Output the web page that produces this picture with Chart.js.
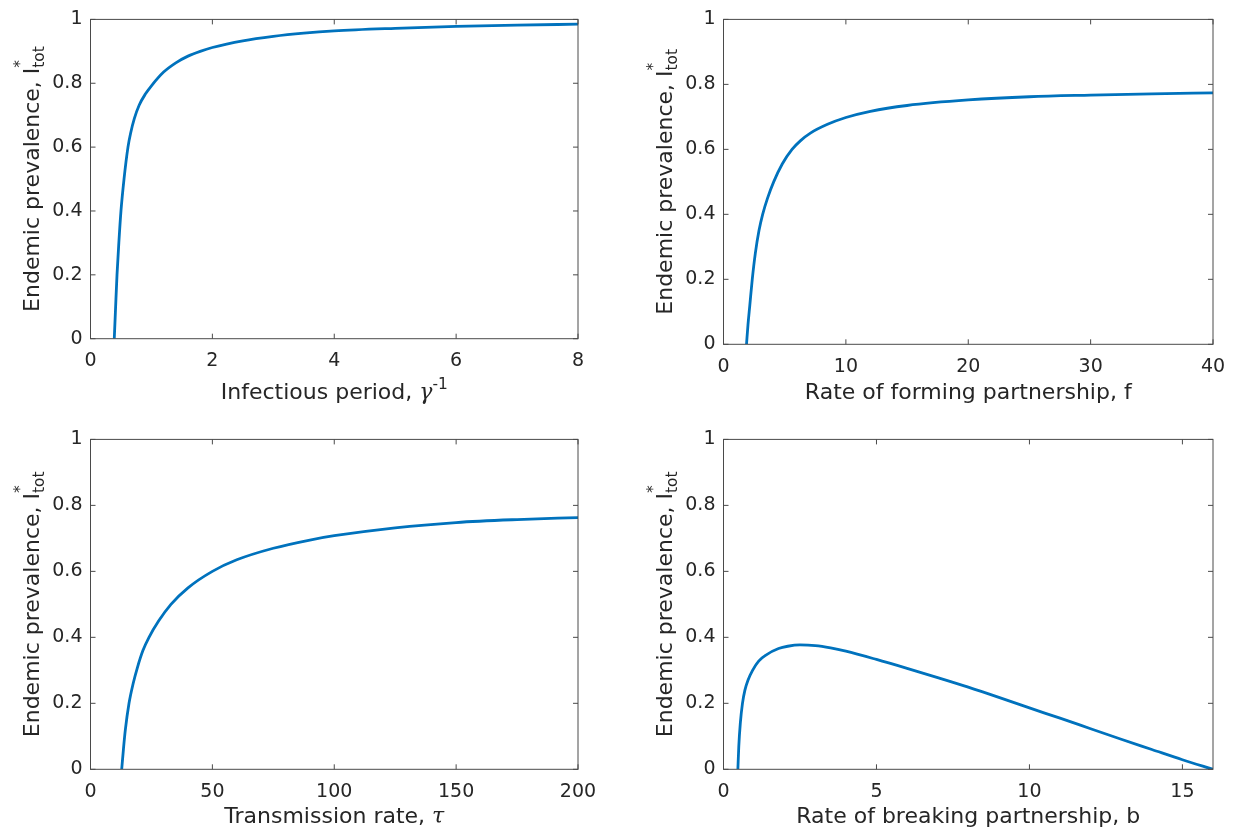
<!DOCTYPE html>
<html>
<head>
<meta charset="utf-8">
<script src="https://cdn.jsdelivr.net/npm/chart.js@4.4.0/dist/chart.umd.min.js"></script>
<style>
  body { margin: 0; background: #fff; }
  #fig { position: relative; width: 1239px; height: 833px; }
  canvas { position: absolute; }
</style>
</head>
<body>
<div id="fig">
  <canvas id="period" width="620" height="420" style="left:0;top:0"></canvas>
  <canvas id="forming" width="619" height="420" style="left:620px;top:0"></canvas>
  <canvas id="transmission" width="620" height="413" style="left:0;top:420px"></canvas>
  <canvas id="breaking" width="619" height="413" style="left:620px;top:420px"></canvas>
</div>
<script>
// values
const periodX = [0.39, 0.41, 0.435, 0.465, 0.50, 0.55, 0.615, 0.66, 0.72, 0.80, 0.90, 1.0, 1.2, 1.4, 1.6, 1.8, 2.0, 2.5, 3.0, 3.5, 4.0, 5.0, 6.0, 7.0, 8.0];
const periodY = [0, 0.09, 0.2, 0.3, 0.4, 0.5, 0.6, 0.645, 0.69, 0.732, 0.766, 0.792, 0.835, 0.864, 0.885, 0.900, 0.912, 0.933, 0.947, 0.957, 0.964, 0.972, 0.978, 0.982, 0.985];

const formingX = [1.88, 2.0, 2.15, 2.35, 2.6, 2.9, 3.2, 3.6, 4.1, 4.8, 5.6, 6.3, 7.1, 8.5, 10, 12, 15, 20, 25, 30, 35, 40];
const formingY = [0, 0.06, 0.12, 0.2, 0.28, 0.35, 0.4, 0.45, 0.5, 0.555, 0.6, 0.627, 0.65, 0.677, 0.698, 0.717, 0.735, 0.752, 0.762, 0.767, 0.771, 0.774];

const transmissionX = [12.8, 13.5, 14.3, 15.8, 17.5, 19.3, 21.5, 24, 28, 33, 40, 50, 60, 75, 90, 100, 125, 150, 175, 200];
const transmissionY = [0, 0.06, 0.12, 0.2, 0.26, 0.31, 0.36, 0.4, 0.45, 0.5, 0.55, 0.6, 0.635, 0.67, 0.695, 0.708, 0.732, 0.748, 0.757, 0.763];

const breakingX = [0.47, 0.5, 0.55, 0.62, 0.7, 0.8, 0.95, 1.15, 1.4, 1.8, 2.1, 2.5, 3.0, 3.5, 4.0, 5.0, 6.0, 7.0, 8.0, 9.0, 10, 11, 12, 13, 14, 15, 16];
const breakingY = [0, 0.07, 0.14, 0.2, 0.24, 0.27, 0.3, 0.328, 0.347, 0.366, 0.373, 0.377, 0.375, 0.368, 0.358, 0.333, 0.306, 0.278, 0.249, 0.218, 0.186, 0.155, 0.123, 0.091, 0.06, 0.029, 0];

const prevalenceTicks = [0, 0.2, 0.4, 0.6, 0.8, 1];
const prevalenceLabels = ['0', '0.2', '0.4', '0.6', '0.8', '1'];
const periodTicks = [0, 2, 4, 6, 8];
const periodLabels = ['0', '2', '4', '6', '8'];
const formingTicks = [0, 10, 20, 30, 40];
const formingLabels = ['0', '10', '20', '30', '40'];
const transmissionTicks = [0, 50, 100, 150, 200];
const transmissionLabels = ['0', '50', '100', '150', '200'];
const breakingTicks = [0, 5, 10, 15];
const breakingLabels = ['0', '5', '10', '15'];

const INK = '#262626';
const tickSize = 19;
const titleSize = 22;

const yTitle = [
  { t: 'Endemic prevalence, I' },
  { t: '*', s: 0.7, dy: -0.62, keep: true },
  { t: 'tot', s: 0.7, dy: 0.22 }
];

// draws a label made of pieces (plain, italic greek, super/subscripts)
function drawRich(ctx, parts, size) {
  const fontOf = p => (p.it ? 'italic ' : '') + (size * (p.s || 1)).toFixed(1) + 'px ' +
    (p.serif ? '"DejaVu Serif"' : '"DejaVu Sans"');
  let total = 0, pending = 0;
  parts.forEach(p => {
    ctx.font = fontOf(p);
    const w = ctx.measureText(p.t).width;
    if (p.keep) { pending = Math.max(pending, w); } else { total += Math.max(w, pending); pending = 0; }
  });
  let x = -total / 2;
  pending = 0;
  ctx.textAlign = 'left';
  ctx.textBaseline = 'alphabetic';
  parts.forEach(p => {
    ctx.font = fontOf(p);
    const w = ctx.measureText(p.t).width;
    ctx.fillText(p.t, x, (p.dy || 0) * size);
    if (p.keep) { pending = Math.max(pending, w); } else { x += Math.max(w, pending); pending = 0; }
  });
}

function makePanel(id, p) {
  const canvas = document.getElementById(id);
  const W = canvas.width, H = canvas.height;
  const frame = {
    id: 'frame',
    afterDraw(chart) {
      const { ctx, chartArea: a, scales: { x, y } } = chart;
      ctx.save();
      ctx.strokeStyle = '#4a4a4a';
      ctx.lineWidth = 1;
      ctx.strokeRect(a.left, a.top, a.right - a.left, a.bottom - a.top);
      ctx.beginPath();
      x.ticks.forEach(t => {
        const px = x.getPixelForValue(t.value);
        ctx.moveTo(px, a.bottom); ctx.lineTo(px, a.bottom - 5);
        ctx.moveTo(px, a.top); ctx.lineTo(px, a.top + 5);
      });
      y.ticks.forEach(t => {
        const py = y.getPixelForValue(t.value);
        ctx.moveTo(a.left, py); ctx.lineTo(a.left + 5, py);
        ctx.moveTo(a.right, py); ctx.lineTo(a.right - 5, py);
      });
      ctx.stroke();
      ctx.fillStyle = INK;
      // x title
      ctx.save();
      ctx.translate((a.left + a.right) / 2, a.bottom + p.xGap);
      drawRich(ctx, p.xTitle, titleSize);
      ctx.restore();
      // y title
      ctx.save();
      ctx.translate(a.left - 51.5, (a.top + a.bottom) / 2);
      ctx.rotate(-Math.PI / 2);
      drawRich(ctx, yTitle, titleSize);
      ctx.restore();
      ctx.restore();
    }
  };
  return new Chart(canvas, {
    type: 'scatter',
    data: {
      datasets: [{
        data: p.x.map((v, i) => ({ x: v, y: p.y[i] })),
        showLine: true,
        borderColor: '#0072BD',
        borderWidth: 2.8,
        pointRadius: 0,
        cubicInterpolationMode: 'monotone',
        fill: false
      }]
    },
    options: {
      responsive: false,
      animation: false,
      events: [],
      layout: { padding: { left: 0, top: p.area.t, right: W - p.area.r, bottom: 0 } },
      plugins: { legend: { display: false }, tooltip: { enabled: false } },
      scales: {
        x: {
          type: 'linear', min: p.xMin, max: p.xMax,
          grid: { display: false, drawTicks: false },
          border: { display: false },
          afterBuildTicks: s => { s.ticks = p.xTicks.map(v => ({ value: v })); },
          afterFit: s => { s.height = H - p.area.b; },
          ticks: {
            font: { family: 'DejaVu Sans', size: tickSize }, color: INK, padding: 11,
            maxRotation: 0, autoSkip: false, callback: (v, i) => p.xLabels[i]
          }
        },
        y: {
          type: 'linear', min: 0, max: 1,
          grid: { display: false, drawTicks: false },
          border: { display: false },
          afterBuildTicks: s => { s.ticks = prevalenceTicks.map(v => ({ value: v })); },
          afterFit: s => { s.width = p.area.l; },
          ticks: {
            font: { family: 'DejaVu Sans', size: tickSize }, color: INK, padding: 8,
            autoSkip: false, callback: (v, i) => prevalenceLabels[i]
          }
        }
      }
    },
    plugins: [frame]
  });
}

makePanel('period', {
  x: periodX, y: periodY, xMin: 0, xMax: 8, xTicks: periodTicks, xLabels: periodLabels,
  area: { l: 90.5, t: 14.3, r: 578, b: 338.7 }, xGap: 60.6,
  xTitle: [{ t: 'Infectious period, ' }, { t: 'γ', it: true, serif: true }, { t: '-1', s: 0.7, dy: -0.45 }]
});
makePanel('forming', {
  x: formingX, y: formingY, xMin: 0, xMax: 40, xTicks: formingTicks, xLabels: formingLabels,
  area: { l: 103.5, t: 14.3, r: 593, b: 344.3 }, xGap: 55,
  xTitle: [{ t: 'Rate of forming partnership, f' }]
});
makePanel('transmission', {
  x: transmissionX, y: transmissionY, xMin: 0, xMax: 200, xTicks: transmissionTicks, xLabels: transmissionLabels,
  area: { l: 90.5, t: 19.3, r: 578, b: 349.3 }, xGap: 54,
  xTitle: [{ t: 'Transmission rate, ' }, { t: 'τ', it: true, serif: true }]
});
makePanel('breaking', {
  x: breakingX, y: breakingY, xMin: 0, xMax: 16, xTicks: breakingTicks, xLabels: breakingLabels,
  area: { l: 103.5, t: 19.3, r: 593, b: 349.3 }, xGap: 54,
  xTitle: [{ t: 'Rate of breaking partnership, b' }]
});
</script>
</body>
</html>
